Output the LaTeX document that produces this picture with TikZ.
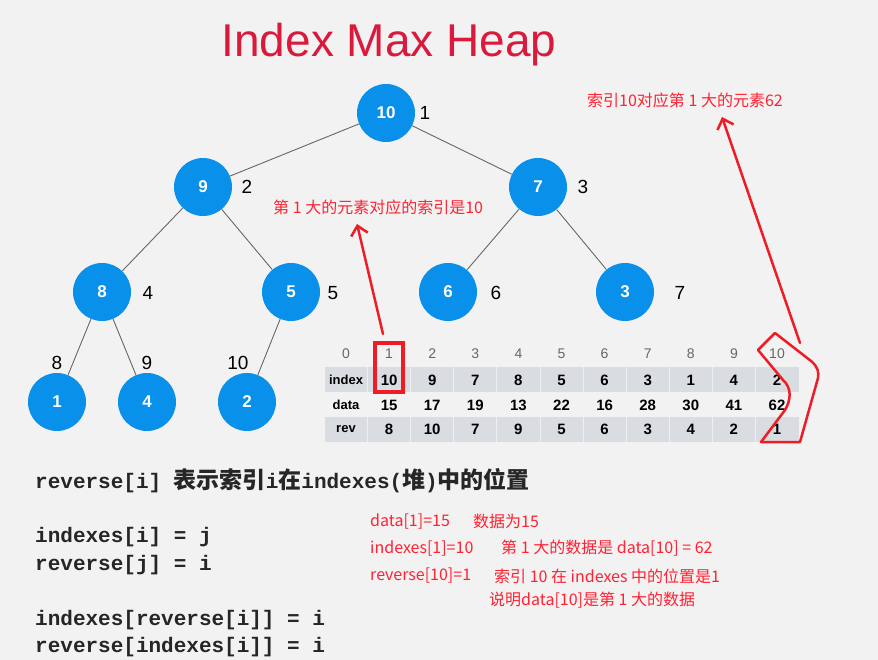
\documentclass[tikz,border=0pt]{standalone}
\usepackage{fontspec}
\setmainfont{Liberation Sans}
\newfontfamily\cjk{Noto Sans CJK SC}
\newfontfamily\codefont{Liberation Mono}
\usetikzlibrary{arrows.meta}
\definecolor{pagebg}{HTML}{F2F2F2}
\definecolor{heapblue}{HTML}{0890EA}
\definecolor{titlered}{HTML}{D91A3C}
\definecolor{notered}{HTML}{FF2233}
\definecolor{penred}{HTML}{EE1C25}
\definecolor{band}{HTML}{D9DCE0}
\newcommand\cjkbold{\fontsize{23}{23}\selectfont\cjk\bfseries}

\begin{document}
\begin{tikzpicture}[x=1pt, y=-1pt, >={Straight Barb[length=9pt,width=17pt]},
  heapnode/.style={circle, fill=heapblue, minimum size=58pt, inner sep=0pt, text=white, font=\fontsize{17}{17}\selectfont\bfseries},
  poslabel/.style={font=\fontsize{19}{19}\selectfont},
  edge/.style={draw=black!60, line width=0.9pt},
  headcell/.style={text=black!60, font=\fontsize{14}{14}\selectfont},
  valcell/.style={font=\fontsize{15}{15}\selectfont\bfseries},
  rowlabel/.style={font=\fontsize{13}{13}\selectfont\bfseries},
  pen/.style={draw=penred, line width=2.5pt, line join=round, line cap=round},
  note/.style={text=notered, inner sep=0pt, anchor=west, font=\fontsize{16}{16}\selectfont\cjk},
  code/.style={text=black!85, inner sep=0pt, anchor=west, font=\fontsize{21}{21}\selectfont\codefont\bfseries}]
\fill[pagebg] (0,0) rectangle (878,660);
\useasboundingbox (0,0) rectangle (878,660);

\node[text=titlered, anchor=base, font=\fontsize{46}{46}\selectfont] (title) at (389,57) {Index Max Heap};

\node[heapnode] (n1) at (386,113) {10};
\node[heapnode] (n2) at (203,187) {9};
\node[heapnode] (n3) at (538,187) {7};
\node[heapnode] (n4) at (102,292) {8};
\node[heapnode] (n5) at (291,292) {5};
\node[heapnode] (n6) at (448,292) {6};
\node[heapnode] (n7) at (625,292) {3};
\node[heapnode] (n8) at (57,402) {1};
\node[heapnode] (n9) at (147,402) {4};
\node[heapnode] (n10) at (247,402) {2};
\draw[edge] (n1) -- (n2);
\draw[edge] (n1) -- (n3);
\draw[edge] (n2) -- (n4);
\draw[edge] (n2) -- (n5);
\draw[edge] (n3) -- (n6);
\draw[edge] (n3) -- (n7);
\draw[edge] (n4) -- (n8);
\draw[edge] (n4) -- (n9);
\draw[edge] (n5) -- (n10);

\node[poslabel] (p1) at (425,113) {1};
\node[poslabel] (p2) at (247,187) {2};
\node[poslabel] (p3) at (583,187) {3};
\node[poslabel] (p4) at (148,293) {4};
\node[poslabel] (p5) at (333,293) {5};
\node[poslabel] (p6) at (496,293) {6};
\node[poslabel] (p7) at (680,293) {7};
\node[poslabel] (p8) at (57,363) {8};
\node[poslabel] (p9) at (147,363) {9};
\node[poslabel] (p10) at (238,363) {10};

\fill[band] (325,367) rectangle (799,392);
\fill[band] (325,417) rectangle (799,442);
\foreach \k in {0,...,9}
  \draw[white!55!band, line width=0.8pt] ({367.5+43.1*\k},367) -- ++(0,25) ({367.5+43.1*\k},417) -- ++(0,25);
\foreach \v [count=\k from 0] in {0,...,10}
  \node[headcell] (h\k) at ({346+43.1*\k},354) {\v};
\node[rowlabel] (lindex) at (346,380) {index};
\node[rowlabel] (ldata) at (346,405) {data};
\node[rowlabel] (lrev) at (346,429) {rev};
\foreach \v [count=\k] in {10,9,7,8,5,6,3,1,4,2}
  \node[valcell] (ix\k) at ({346+43.1*\k},380) {\v};
\foreach \v [count=\k] in {15,17,19,13,22,16,28,30,41,62}
  \node[valcell] (da\k) at ({346+43.1*\k},405) {\v};
\foreach \v [count=\k] in {8,10,7,9,5,6,3,4,2,1}
  \node[valcell] (rv\k) at ({346+43.1*\k},429) {\v};

\node[draw=penred, line width=4pt, minimum width=28pt, minimum height=49pt, inner sep=0pt] (sel) at (389,367.5) {};

\node[note] (noteA) at (273,207) {第 1 大的元素对应的索引是10};
\node[note] (noteB) at (587,100) {索引10对应第 1 大的元素62};
\coordinate (tipA) at (357,224);
\coordinate (tipB) at (722,117);
\coordinate (tail) at (800,343);
\draw[pen, ->] ([xshift=-6pt, yshift=7pt]sel.north) -- (tipA);
\draw[pen, ->] (tail) -- (tipB);
\draw[pen] (758,350) -- (775,333) -- (811,361) .. controls (818,367) and (819,372) .. (818,378) -- (800,442) -- (761,442) -- (785,410) .. controls (791,400) and (792,388) .. (783,380) -- (758,350);

\node[code] (c1) at (35,481) {reverse[i] {\cjkbold 表示索引}i{\cjkbold 在}indexes({\cjkbold 堆}){\cjkbold 中的位置}};
\node[code] (c2) at (35,537) {indexes[i] = j};
\node[code] (c3) at (35,565) {reverse[j] = i};
\node[code] (c4) at (35,620) {indexes[reverse[i]] = i};
\node[code] (c5) at (35,647) {reverse[indexes[i]] = i};

\node[note] (d1) at (370,521) {data[1]=15};
\node[note] (d1b) at (473,521) {数据为15};
\node[note] (d2) at (370,548) {indexes[1]=10};
\node[note] (d2b) at (501,548) {第 1 大的数据是 data[10] = 62};
\node[note] (d3) at (370,576) {reverse[10]=1};
\node[note] (d3b) at (494,576) {索引 10 在 indexes 中的位置是1};
\node[note] (d4) at (489,600) {说明data[10]是第 1 大的数据};
\end{tikzpicture}
\end{document}
